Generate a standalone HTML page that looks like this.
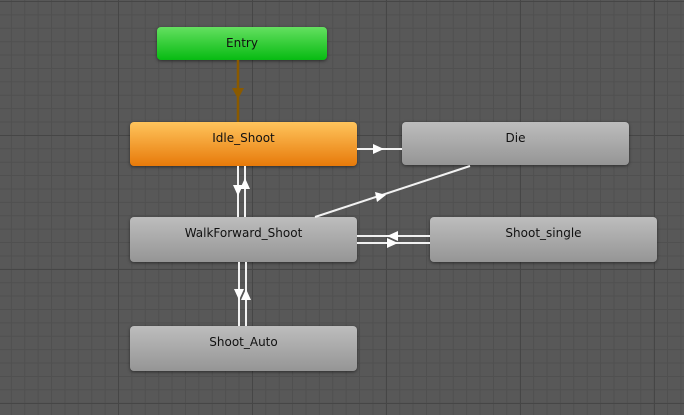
<!DOCTYPE html>
<html><head><style>
html,body{margin:0;padding:0}
body{width:684px;height:415px;overflow:hidden;position:relative;font-family:"DejaVu Sans","Liberation Sans",sans-serif;
background-color:#585858;
background-image:
linear-gradient(#464646 1px,transparent 1px),
linear-gradient(90deg,#464646 1px,transparent 1px),
linear-gradient(#505050 1px,transparent 1px),
linear-gradient(90deg,#505050 1px,transparent 1px);
background-size:134px 134px,134px 134px,13.4px 13.4px,13.4px 13.4px;
background-position:0 1px,118px 0,0 1px,118px 0;}
.n{position:absolute;border-radius:4px;box-shadow:0 1px 3px rgba(0,0,0,.5);font-size:12px;color:#111;text-align:center;box-sizing:border-box;padding-top:9px}
.g{background:linear-gradient(#bdbdbd,#959595)}
svg{position:absolute;left:0;top:0}
</style></head><body>
<div class="n" style="left:157px;top:27px;width:170px;height:33px;background:linear-gradient(#64e060,#07bb12);">Entry</div>
<div class="n" style="left:130px;top:122px;width:227px;height:44px;background:linear-gradient(#ffc45c,#e77a0a);">Idle_Shoot</div>
<div class="n g" style="left:402px;top:122px;width:227px;height:43px;">Die</div>
<div class="n g" style="left:130px;top:217px;width:227px;height:45px;">WalkForward_Shoot</div>
<div class="n g" style="left:430px;top:217px;width:227px;height:45px;">Shoot_single</div>
<div class="n g" style="left:130px;top:326px;width:227px;height:45px;">Shoot_Auto</div>
<svg width="684" height="415">
<g stroke="#8a5a00" stroke-width="2.5"><line x1="238" y1="60" x2="238" y2="122"/></g>
<polygon points="232,88 244,88 238,99" fill="#8a5a00"/>
<g stroke="#f2f2f2" stroke-width="2">
<line x1="357" y1="149" x2="402" y2="149"/>
<line x1="470" y1="166" x2="315" y2="217"/>
<line x1="238" y1="166" x2="238" y2="217"/>
<line x1="245" y1="166" x2="245" y2="217"/>
<line x1="357" y1="236" x2="430" y2="236"/>
<line x1="357" y1="243" x2="430" y2="243"/>
<line x1="239" y1="262" x2="239" y2="326"/>
<line x1="246" y1="262" x2="246" y2="326"/>
</g>
<g fill="#fff">
<polygon points="373,144 373,154 384,149"/>
<polygon points="386,195 375,192 377,202"/>
<polygon points="233,185 243,185 238,196"/>
<polygon points="240,189 250,189 245,178"/>
<polygon points="398,231 398,241 387,236"/>
<polygon points="387,238 387,248 398,243"/>
<polygon points="234,289 244,289 239,300"/>
<polygon points="241,300 251,300 246,289"/>
</g>
</svg>
</body></html>
